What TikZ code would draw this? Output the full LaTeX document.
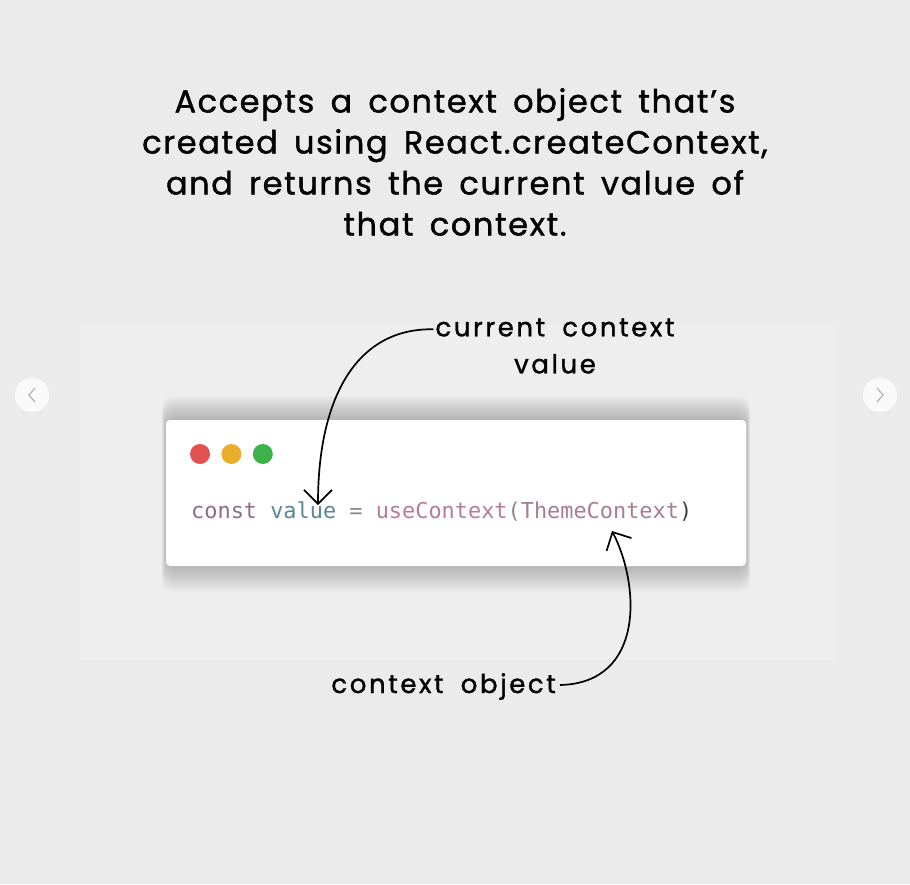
\documentclass[tikz,border=0pt]{standalone}
\usepackage{fontspec}
\setmainfont{Poppins}
\setmonofont{DejaVu Sans Mono}
\newfontfamily\headfont[LetterSpace=5,WordSpace=1.6,FakeBold=1.2]{Poppins}
\newfontfamily\notefont[LetterSpace=10,WordSpace=1.8,FakeBold=1.2]{Poppins}
\usetikzlibrary{positioning,arrows.meta}
\definecolor{pagebg}{HTML}{EBEBEB}
\definecolor{panelbg}{HTML}{EEEEEE}
\definecolor{dotred}{HTML}{E0514F}
\definecolor{dotyellow}{HTML}{E8AE2E}
\definecolor{dotgreen}{HTML}{3DB24A}
\definecolor{kwcol}{HTML}{8E6A8C}
\definecolor{varcol}{HTML}{5A8796}
\definecolor{opcol}{HTML}{8A8A8A}
\definecolor{fncol}{HTML}{B57C9E}
\definecolor{argcol}{HTML}{A87D93}
\begin{document}
\begin{tikzpicture}[x=1pt,y=-1pt,
  headline/.style={align=center,font=\headfont\fontsize{32}{41}\selectfont,inner sep=0pt},
  note/.style={align=center,font=\notefont\fontsize{26}{37}\selectfont,inner sep=0pt},
  editor/.style={fill=white,rounded corners=4pt,minimum width=580pt,minimum height=146pt},
  light/.style={circle,fill=dot#1,minimum size=20pt,inner sep=0pt},
  snippet/.style={font=\ttfamily\fontsize{21.9}{26}\selectfont,inner sep=0pt},
  pointer/.style={line width=1.7pt,-{Straight Barb[length=14pt,width=28pt]}},
  sidebtn/.style={circle,fill=white,fill opacity=.75,minimum size=34pt,inner sep=0pt}]
\fill[pagebg] (0,0) rectangle (910,884);
\useasboundingbox (0,0) rectangle (910,884);
\fill[panelbg] (80,325) rectangle (835,660);
\node[headline] (intro) at (455,162) {Accepts a context object that’s\\created using React.createContext,\\and returns the current value of\\that context.};
\foreach \k in {1,...,12}
  \fill[black,opacity=.018,rounded corners=12pt] (166-0.35*\k,420-2*\k) rectangle (746+0.35*\k,566+2.2*\k);
\node[editor] (window) at (456,493) {};
\node[light=red] (close) at (200,454) {};
\node[light=yellow,right=11pt of close] (minimize) {};
\node[light=green,right=11pt of minimize] (zoom) {};
\node[snippet,anchor=base west] (code) at (191,518) {\color{kwcol}const \color{varcol}value \color{opcol}= \color{fncol}useContext\color{opcol}(\color{argcol}ThemeContext\color{black!75})};
\coordinate (valuetip) at (318,505);
\coordinate (argtip) at (612,531);
\node[note] (current) at (555,346) {current context\\value};
\node[note,anchor=base east] (object) at (556,693) {context object};
\draw[pointer] (current.north west) ++(-2,11) .. controls (355,328) and (318,400) .. (valuetip);
\draw[pointer] (object.base east) ++(4,-8) .. controls (645,683) and (640,585) .. (argtip);
\node[sidebtn] (prev) at (32,395) {};
\node[sidebtn] (next) at (880,395) {};
\draw[black!30,line width=1.2pt] (35,388) -- (29,395) -- (35,402);
\draw[black!30,line width=1.2pt] (877,388) -- (883,395) -- (877,402);
\end{tikzpicture}
\end{document}
